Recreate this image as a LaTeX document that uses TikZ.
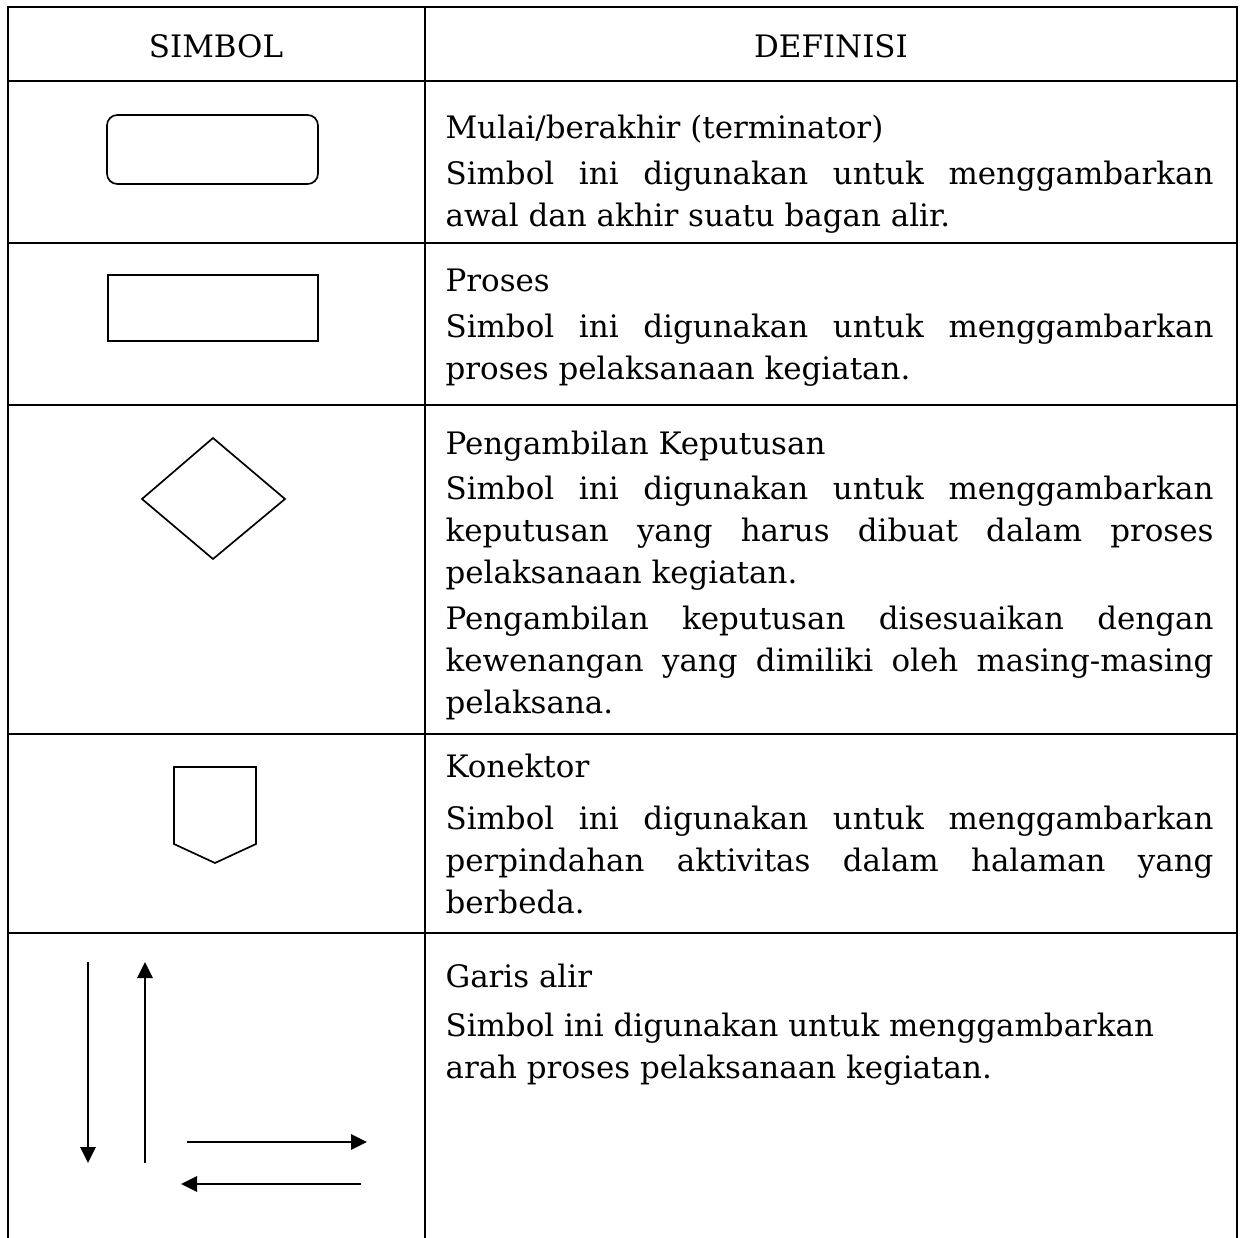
\documentclass[tikz,border=0pt]{standalone}
\usepackage{fontspec}
\setmainfont{DejaVu Serif}
\usetikzlibrary{arrows.meta}

\begin{document}
\begin{tikzpicture}[x=0.125mm, y=-0.125mm, font=\fontsize{11}{15}\selectfont,
  rule/.style={line width=0.85pt},
  sym/.style={draw, line width=0.6pt},
  flow/.style={line width=0.85pt, -{Triangle[length=2mm, width=1.9mm]}},
  def/.style={anchor=base west, inner sep=0pt, text width=96mm, align=justify,
    execute at begin node={\fontsize{11}{15}\selectfont\setlength{\parskip}{0.4mm}%
      \tolerance=10000 \hyphenpenalty=10000 \exhyphenpenalty=10000 }}]
  \useasboundingbox (0,0) rectangle (1242,1238);
  % table
  \draw[rule] (8,1238) -- (8,7) -- (1237,7) -- (1237,1238);
  \draw[rule] (425,7) -- (425,1238);
  \foreach \y in {81,243,405,734,933}
    \draw[rule] (8,\y) -- (1237,\y);
  \node (hsym) at (216,46) {SIMBOL};
  \node (hdef) at (831,46) {DEFINISI};
  % symbols
  \draw[sym, rounded corners=1.3mm] (107,115) rectangle (318,184);
  \draw[sym] (108,275) rectangle (318,341);
  \draw[sym] (213,438) -- (285,499) -- (213,559) -- (142,499) -- cycle;
  \draw[sym] (174,767) -- (256,767) -- (256,844) -- (215,863) -- (174,844) -- cycle;
  \coordinate (down1) at (88,962);   \coordinate (down2) at (88,1163);
  \coordinate (up1) at (145,1163);   \coordinate (up2) at (145,962);
  \coordinate (right1) at (187,1142); \coordinate (right2) at (367,1142);
  \coordinate (left1) at (361,1184);  \coordinate (left2) at (181,1184);
  \draw[flow] (down1) -- (down2);
  \draw[flow] (up1) -- (up2);
  \draw[flow] (right1) -- (right2);
  \draw[flow] (left1) -- (left2);
  % definitions
  \node[def] (term) at (445,139) {Mulai/berakhir (terminator)\par
    Simbol ini digunakan untuk menggambarkan\linebreak awal dan akhir suatu bagan alir.};
  \node[def] (proc) at (445,292) {Proses\par
    Simbol ini digunakan untuk menggambarkan\linebreak proses pelaksanaan kegiatan.};
  \node[def] (dec) at (445,454) {Pengambilan Keputusan\par
    Simbol ini digunakan untuk menggambarkan\linebreak keputusan yang harus dibuat dalam proses\linebreak pelaksanaan kegiatan.\par
    Pengambilan keputusan disesuaikan dengan\linebreak kewenangan yang dimiliki oleh masing-masing\linebreak pelaksana.};
  \node[def] (conn) at (445,777) {Konektor\par\vspace{0.9mm}
    Simbol ini digunakan untuk menggambarkan\linebreak perpindahan aktivitas dalam halaman yang\linebreak berbeda.};
  \node[def] (line) at (445,987) {Garis alir\par\vspace{0.5mm}
    Simbol ini digunakan untuk menggambarkan\newline arah proses pelaksanaan kegiatan.};
\end{tikzpicture}
\end{document}
